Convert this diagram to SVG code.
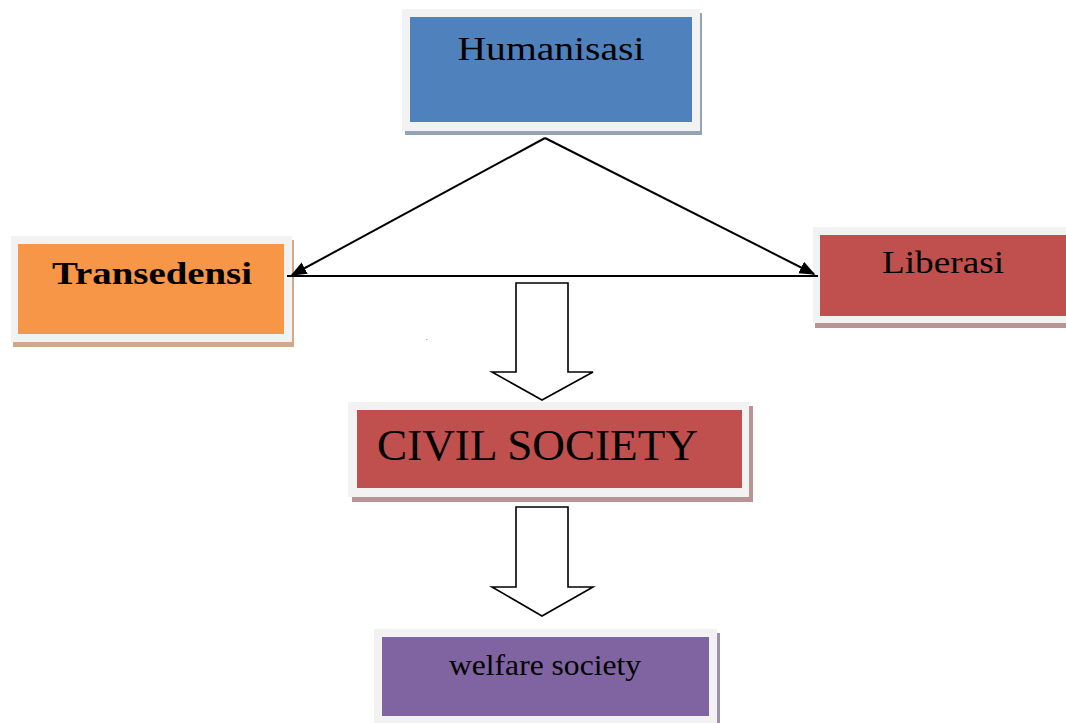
<svg xmlns="http://www.w3.org/2000/svg" width="1066" height="723" viewBox="0 0 1066 723">
<style>
.frame{fill:#F2F2F2}
.lbl{font-family:"Liberation Serif","Times New Roman",serif;fill:#000}
.ln{stroke:#000;stroke-width:2;fill:none}
.blk{fill:#fff;stroke:#000;stroke-width:1.6;stroke-linejoin:miter}
</style>
<defs>
<marker id="ah" viewBox="0 0 10 10" refX="9" refY="5" markerWidth="7" markerHeight="7" markerUnits="userSpaceOnUse" orient="auto">
<path d="M0,0 L10,5 L0,10 Z" fill="#000"/>
</marker>
<marker id="ah2" viewBox="0 0 10 10" refX="9" refY="5" markerWidth="16" markerHeight="16" markerUnits="userSpaceOnUse" orient="auto">
<path d="M0,1 L10,5 L0,9 Z" fill="#000"/>
</marker>
</defs>
<rect width="1066" height="723" fill="#fff"/>
<g id="humanisasi">
<rect x="405" y="13" width="297" height="122" fill="#95A2B5"/>
<rect class="frame" x="402" y="9" width="298" height="122"/>
<rect x="410" y="17" width="282" height="105" fill="#4F81BD"/>
<text class="lbl" x="551" y="60" font-size="33" text-anchor="middle" textLength="187" lengthAdjust="spacingAndGlyphs">Humanisasi</text>
</g>
<g id="transedensi">
<rect x="13" y="240" width="281" height="107" fill="#D4A886"/>
<rect class="frame" x="11" y="236" width="281" height="106"/>
<rect x="18" y="244" width="266" height="90" fill="#F79646"/>
<text class="lbl" x="152" y="284" font-size="31" font-weight="bold" text-anchor="middle" textLength="200" lengthAdjust="spacingAndGlyphs">Transedensi</text>
</g>
<g id="liberasi">
<rect x="815" y="231" width="251" height="97" fill="#B99494"/>
<rect class="frame" x="813" y="227" width="253" height="96"/>
<rect x="820" y="235" width="246" height="81" fill="#C0504D"/>
<text class="lbl" x="943" y="273" font-size="31" text-anchor="middle" textLength="122" lengthAdjust="spacingAndGlyphs">Liberasi</text>
</g>
<g id="civil-society">
<rect x="352" y="406" width="401" height="96" fill="#B99494"/>
<rect class="frame" x="348" y="402" width="401" height="95"/>
<rect x="357" y="410" width="385" height="78" fill="#C0504D"/>
<text class="lbl" x="377" y="460" font-size="45" textLength="321" lengthAdjust="spacingAndGlyphs">CIVIL SOCIETY</text>
</g>
<g id="welfare-society">
<rect x="377" y="633" width="343" height="90" fill="#9A90AA"/>
<rect class="frame" x="374" y="629" width="343" height="94"/>
<rect x="382" y="637" width="327" height="79" fill="#8064A2"/>
<text class="lbl" x="545" y="675" font-size="30" text-anchor="middle" textLength="192" lengthAdjust="spacingAndGlyphs">welfare society</text>
</g>
<g id="connectors">
<line class="ln" x1="287" y1="276" x2="818" y2="276"/>
<line class="ln" x1="545" y1="138" x2="292" y2="275" marker-end="url(#ah2)"/>
<line class="ln" x1="545" y1="138" x2="814" y2="274" marker-end="url(#ah2)"/>
<path class="blk" d="M516,283 H568 V372 H593 L542,400 L492,372 H516 Z"/>
<path class="blk" d="M516,507 H568 V587 H593 L542,616 L492,587 H516 Z"/>
</g>
<text class="lbl" x="426" y="340" font-size="6">.</text>
</svg>
